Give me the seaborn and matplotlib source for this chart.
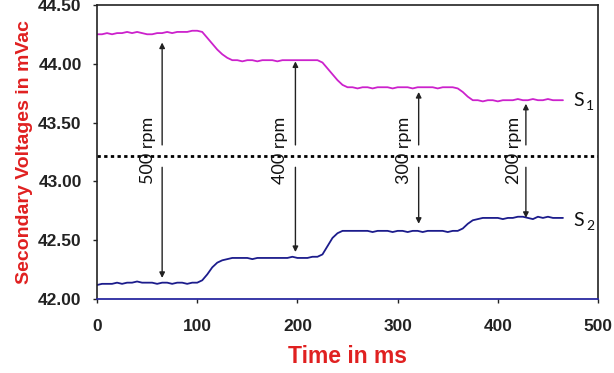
import matplotlib
matplotlib.use("Agg")
import matplotlib.pyplot as plt
import seaborn as sns
import pandas as pd

# Time axis (ms) and the two secondary-winding voltages (mVac)
time_ms = [0, 5, 10, 15, 20, 25, 30, 35, 40, 45, 50, 55, 60, 65, 70, 75, 80, 85, 90, 95,
           100, 105, 110, 115, 120, 125, 130, 135, 140, 145, 150, 155, 160, 165, 170, 175,
           180, 185, 190, 195, 200, 205, 210, 215, 220, 225, 230, 235, 240, 245, 250, 255,
           260, 265, 270, 275, 280, 285, 290, 295, 300, 305, 310, 315, 320, 325, 330, 335,
           340, 345, 350, 355, 360, 365, 370, 375, 380, 385, 390, 395, 400, 405, 410, 415,
           420, 425, 430, 435, 440, 445, 450, 455, 460, 465]

s1_mv = [44.25, 44.25, 44.26, 44.25, 44.26, 44.26, 44.27, 44.26, 44.27, 44.26, 44.25, 44.25,
         44.26, 44.26, 44.27, 44.26, 44.27, 44.27, 44.27, 44.28, 44.28, 44.27, 44.22, 44.17,
         44.12, 44.08, 44.05, 44.03, 44.03, 44.02, 44.03, 44.03, 44.02, 44.03, 44.03, 44.03,
         44.02, 44.03, 44.03, 44.03, 44.03, 44.03, 44.03, 44.03, 44.03, 44.01, 43.96, 43.91,
         43.86, 43.82, 43.80, 43.80, 43.79, 43.80, 43.80, 43.79, 43.80, 43.80, 43.80, 43.79,
         43.80, 43.80, 43.80, 43.79, 43.80, 43.80, 43.80, 43.80, 43.79, 43.80, 43.80, 43.80,
         43.79, 43.76, 43.72, 43.69, 43.69, 43.68, 43.69, 43.69, 43.68, 43.69, 43.69, 43.69,
         43.70, 43.69, 43.69, 43.70, 43.69, 43.69, 43.70, 43.69, 43.69, 43.69]

s2_mv = [42.12, 42.13, 42.13, 42.13, 42.14, 42.13, 42.14, 42.14, 42.15, 42.14, 42.14, 42.14,
         42.13, 42.14, 42.14, 42.13, 42.14, 42.14, 42.13, 42.14, 42.14, 42.16, 42.21, 42.27,
         42.31, 42.33, 42.34, 42.35, 42.35, 42.35, 42.35, 42.34, 42.35, 42.35, 42.35, 42.35,
         42.35, 42.35, 42.35, 42.36, 42.35, 42.35, 42.35, 42.36, 42.36, 42.38, 42.45, 42.52,
         42.56, 42.58, 42.58, 42.58, 42.58, 42.58, 42.58, 42.57, 42.58, 42.58, 42.58, 42.57,
         42.58, 42.58, 42.57, 42.58, 42.58, 42.57, 42.58, 42.58, 42.58, 42.58, 42.57, 42.58,
         42.58, 42.60, 42.64, 42.67, 42.68, 42.69, 42.69, 42.69, 42.69, 42.68, 42.69, 42.69,
         42.70, 42.70, 42.69, 42.68, 42.70, 42.69, 42.70, 42.69, 42.69, 42.69]

# Speed markers: label, arrow position, label position, arrow ends
rpm_labels = ["500 rpm", "400 rpm", "300 rpm", "200 rpm"]
arrow_x = [65, 198, 321, 428]
label_x = [51, 183, 306, 416]
up_tip = [44.18, 44.02, 43.76, 43.66]
down_tip = [42.18, 42.40, 42.64, 42.69]
divider_mv = 43.22

series_names = ["S", "S"]
series_subs = ["1", "2"]

x_ticks = [0, 100, 200, 300, 400, 500]
y_ticks = [42.00, 42.50, 43.00, 43.50, 44.00, 44.50]

sns.set_style("white")
plt.rcParams["font.family"] = ["Liberation Sans", "DejaVu Sans"]

df = pd.DataFrame({
    "time": time_ms * 2,
    "voltage": s1_mv + s2_mv,
    "series": ["S1"] * len(s1_mv) + ["S2"] * len(s2_mv),
})

fig = plt.figure(figsize=(6.14, 3.73), dpi=100)
ax = fig.add_axes([0.158, 0.198, 0.816, 0.789])

sns.lineplot(data=df, x="time", y="voltage", hue="series",
             palette={"S1": "#cc22cc", "S2": "#1c1c8c"}, linewidth=1.3,
             legend=False, ax=ax)

ax.axhline(divider_mv, color="black", linestyle=(0, (1.2, 1.2)), linewidth=2.0)

for lab, ax_x, lx, ut, dt in zip(rpm_labels, arrow_x, label_x, up_tip, down_tip):
    ax.annotate("", xy=(ax_x, ut), xytext=(ax_x, 43.31),
                arrowprops=dict(arrowstyle="-|>", color="#222222", lw=1.0,
                                mutation_scale=8, shrinkA=0, shrinkB=0))
    ax.annotate("", xy=(ax_x, dt), xytext=(ax_x, 43.12),
                arrowprops=dict(arrowstyle="-|>", color="#222222", lw=1.0,
                                mutation_scale=8, shrinkA=0, shrinkB=0))
    ax.text(lx, 43.26, lab, rotation=90, ha="center", va="center",
            fontsize=13, family=["Lato", "DejaVu Sans"], color="#111111")

# End-of-line series names with subscripts
for name, sub, yv in zip(series_names, series_subs, [s1_mv[-1], s2_mv[-1] - 0.02]):
    ax.annotate(name, xy=(475, yv), fontsize=14, va="center", ha="left",
                family=["Lato", "DejaVu Sans"], color="#111111")
    ax.annotate(sub, xy=(475, yv), xytext=(9.5, -4), textcoords="offset points",
                fontsize=10, va="center", ha="left",
                family=["Lato", "DejaVu Sans"], color="#111111")

ax.set_xlim(0, 500)
ax.set_ylim(42.0, 44.5)
ax.set_xticks(x_ticks)
ax.set_yticks(y_ticks)
ax.set_yticklabels([f"{v:.2f}" for v in y_ticks])
ax.tick_params(axis="both", labelsize=12.5, colors="#222222", length=3, width=1,
               direction="out", left=True, bottom=True)
ax.tick_params(axis="x", pad=11)
ax.tick_params(axis="y", pad=8)
for lbl in ax.get_xticklabels() + ax.get_yticklabels():
    lbl.set_fontweight("bold")

for side in ["left", "top", "right"]:
    ax.spines[side].set_color("#222222")
    ax.spines[side].set_linewidth(1.2)
ax.spines["bottom"].set_color("#2a2aa0")
ax.spines["bottom"].set_linewidth(1.3)

ax.set_xlabel("Time in ms", color="#e02020", fontsize=16.5, fontweight="bold", labelpad=8)
ax.set_ylabel("Secondary Voltages in mVac", color="#e02020", fontsize=14,
              fontweight="bold", labelpad=4)

fig.savefig("out.png", dpi=100)
